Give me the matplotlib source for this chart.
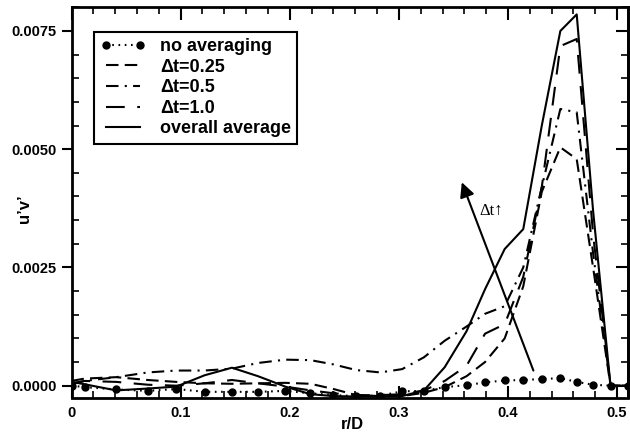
import matplotlib
matplotlib.use("Agg")
import matplotlib.pyplot as plt
from matplotlib.ticker import MultipleLocator, FormatStrFormatter

# radial positions (non-uniform grid, denser near r/D = 0.5)
r = [0.0, 0.012, 0.041, 0.070, 0.096, 0.122, 0.147, 0.171, 0.196, 0.219,
     0.240, 0.261, 0.283, 0.303, 0.323, 0.342, 0.362, 0.379, 0.397, 0.414,
     0.431, 0.448, 0.463, 0.478, 0.494, 0.51]

no_avg = [0.0, -0.00003, -0.00008, -0.00011, -0.00007, -0.00013, -0.00013, -0.00013, -0.00011, -0.00016,
          -0.0002, -0.00022, -0.00021, -0.00012, -0.00011, -0.00003, 0.00001, 0.00007, 0.00011, 0.00012,
          0.00014, 0.00016, 0.00008, 0.00002, 0.0, 0.0]

dt_025 = [0.0001, 0.00015, 0.00018, 0.00012, 0.00008, 0.00005, 0.00004, 0.00005, 0.00006, 0.00004,
          -0.00007, -0.0002, -0.00022, -0.00022, -0.00015, -0.00003, 0.0002, 0.0005, 0.001, 0.0021,
          0.0041, 0.00504, 0.00479, 0.0025, 0.0, 0.0]

dt_05 = [0.00003, 0.0001, 0.00018, 0.00028, 0.00032, 0.00032, 0.00036, 0.00048, 0.00055, 0.00054,
         0.00045, 0.00033, 0.00028, 0.00035, 0.0006, 0.00095, 0.00125, 0.00152, 0.00168, 0.0025,
         0.0042, 0.00585, 0.00578, 0.0028, 0.0, 0.0]

dt_10 = [0.00005, 0.0001, 0.00008, 0.00002, 0.0, 0.00005, 0.00012, 0.00005, -0.00002, -0.0001,
         -0.00016, -0.0002, -0.0002, -0.00018, -0.0001, 0.0001, 0.00042, 0.0011, 0.0013, 0.0023,
         0.0042, 0.00718, 0.00733, 0.0032, 0.0, 0.0]

overall = [0.00008, 0.00003, -0.0001, -0.00006, -0.00002, 0.00022, 0.00038, 0.0002, -0.00002, -0.00018,
           -0.00022, -0.00023, -0.00023, -0.00022, -0.0001, 0.00039, 0.00115, 0.00204, 0.00289, 0.00331,
           0.0055, 0.0075, 0.00785, 0.0037, 0.0, 0.0]

labels = ["no averaging", "\u0394t=0.25", "\u0394t=0.5", "\u0394t=1.0", "overall average"]

# arrow showing the trend with increasing averaging window
arrow_tail = (0.4233, 0.00032)
arrow_head = (0.3577, 0.0043)
arrow_text_pos = (0.385, 0.0037)

plt.rcParams["font.family"] = ["Liberation Sans", "DejaVu Sans"]
plt.rcParams["font.weight"] = "bold"

fig = plt.figure(figsize=(6.3, 4.32), dpi=100)
ax = fig.add_axes([71.5 / 630, 1 - 397.5 / 432, (628 - 71.5) / 630, (397.5 - 7.3) / 432])

lw = 1.5
ax.plot(r, no_avg, color="k", lw=lw, linestyle=(0, (0.8, 2.2)), marker="o", markersize=5,
        label=labels[0])
ax.plot(r, dt_025, color="k", lw=lw, linestyle=(0, (6, 3)), label=labels[1])
ax.plot(r, dt_05, color="k", lw=lw, linestyle=(0, (6, 3, 1, 3)), label=labels[2])
ax.plot(r, dt_10, color="k", lw=lw, linestyle=(0, (9, 6)), label=labels[3])
ax.plot(r, overall, color="k", lw=lw, linestyle="-", label=labels[4])

ax.annotate("", xy=arrow_head, xytext=arrow_tail,
            arrowprops=dict(arrowstyle="-|>", color="k", lw=1.5, mutation_scale=22, shrinkA=0, shrinkB=0))
ax.text(arrow_text_pos[0], arrow_text_pos[1], "\u0394t\u2191", fontsize=12, fontweight="normal",
        family=["Liberation Serif", "DejaVu Serif"], ha="center", va="center")

ax.set_xlim(0, 0.51)
ax.set_ylim(-0.00025, 0.008)

ax.xaxis.set_major_locator(MultipleLocator(0.1))
ax.xaxis.set_minor_locator(MultipleLocator(0.02))
ax.yaxis.set_major_locator(MultipleLocator(0.0025))
ax.yaxis.set_minor_locator(MultipleLocator(0.0005))
ax.xaxis.set_major_formatter(FormatStrFormatter("%g"))
ax.yaxis.set_major_formatter(FormatStrFormatter("%.4f"))

ax.tick_params(axis="x", which="major", direction="in", top=True, length=9, width=1.5, labelsize=10.5, pad=6)
ax.tick_params(axis="x", which="minor", direction="in", top=True, length=5, width=1.2)
ax.tick_params(axis="y", which="major", direction="out", right=False, length=7, width=1.5, labelsize=10.5)
ax.tick_params(axis="y", which="minor", direction="in", right=False, length=5, width=1.2)

# right side ticks point inwards
ax_r = ax.secondary_yaxis("right")
ax_r.yaxis.set_major_locator(MultipleLocator(0.0025))
ax_r.yaxis.set_minor_locator(MultipleLocator(0.0005))
ax_r.tick_params(which="major", direction="in", length=9, width=1.5, labelright=False)
ax_r.tick_params(which="minor", direction="in", length=5, width=1.2)
ax_r.spines["right"].set_linewidth(2)

for s in ax.spines.values():
    s.set_linewidth(2)

ax.set_xlabel("r/D", fontsize=12, fontweight="bold")
ax.xaxis.set_label_coords(0.505, -0.068)
ax.xaxis.label.set_va("center")
ax.set_ylabel("u\u2019v\u2019", fontsize=12, fontweight="bold")
ax.yaxis.set_label_coords(-0.084, 0.485)
ax.yaxis.label.set_va("center")

leg = ax.legend(loc="upper left", bbox_to_anchor=(0.0404, 0.9375), borderaxespad=0,
                fancybox=False, edgecolor="k", framealpha=1, numpoints=2,
                handlelength=2.5, handletextpad=0.8, labelspacing=0.2, borderpad=0.35,
                prop={"weight": "bold", "size": 13})
leg.get_frame().set_linewidth(1.5)

fig.savefig("out.png", dpi=100)
